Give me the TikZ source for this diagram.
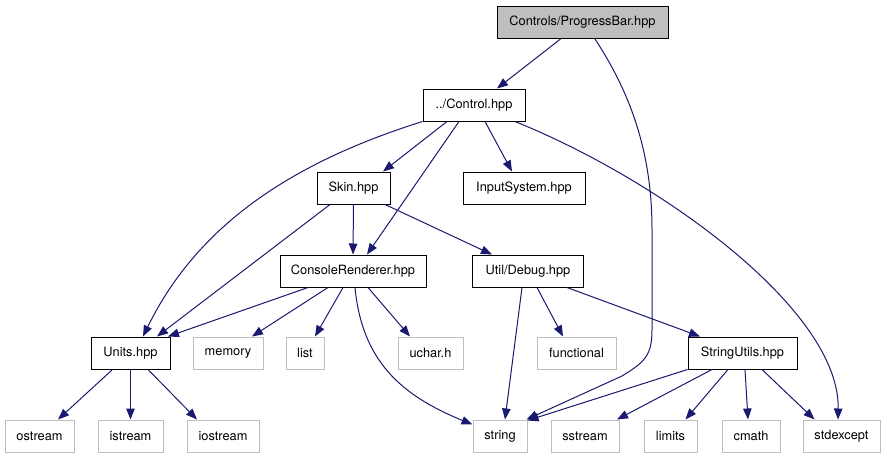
\documentclass[tikz,border=0pt]{standalone}
\usepackage{fontspec}
\setmainfont{TeX Gyre Heros}
\usepackage{tikz}
\usetikzlibrary{arrows.meta}
\definecolor{DOXedge}{HTML}{191970}
\definecolor{DOXgrey}{HTML}{BFBFBF}

\begin{document}
\begin{tikzpicture}[x=1pt, y=-1pt, font=\fontsize{12.8}{15}\selectfont]
  \tikzset{
    filebox/.style={draw=black, line width=1pt, minimum height=32pt, inner sep=0pt},
    sysbox/.style={draw=DOXgrey, line width=1pt, minimum height=32pt, inner sep=0pt},
    curbox/.style={filebox, fill=DOXgrey},
    dep/.style={-{Triangle[length=11pt, width=8.5pt]}, DOXedge, line width=1pt},
  }
  \useasboundingbox (0,0) rectangle (887,459);

  % Project headers
  \node[curbox, minimum width=171pt] (pb) at (582.5,22.5) {Controls/ProgressBar.hpp};
  \node[filebox, minimum width=102pt] (ctl) at (474,105) {../Control.hpp};
  \node[filebox, minimum width=73pt] (skin) at (353.5,188) {Skin.hpp};
  \node[filebox, minimum width=122pt] (input) at (524,188) {InputSystem.hpp};
  \node[filebox, minimum width=146pt] (cr) at (353,271) {ConsoleRenderer.hpp};
  \node[filebox, minimum width=111pt] (dbg) at (528,271) {Util/Debug.hpp};
  \node[filebox, minimum width=79pt] (units) at (130.5,353) {Units.hpp};
  \node[filebox, minimum width=109pt] (su) at (742.5,353) {StringUtils.hpp};

  % System headers
  \node[sysbox, minimum width=70pt] (memory) at (228,353) {memory};
  \node[sysbox, minimum width=38pt] (list) at (305,353) {list};
  \node[sysbox, minimum width=65pt] (uchar) at (430.5,353) {uchar.h};
  \node[sysbox, minimum width=79pt] (functional) at (576.5,353) {functional};
  \node[sysbox, minimum width=69pt] (ostream) at (39.5,436) {ostream};
  \node[sysbox, minimum width=65pt] (istream) at (130.5,436) {istream};
  \node[sysbox, minimum width=72pt] (iostream) at (223,436) {iostream};
  \node[sysbox, minimum width=54pt] (string) at (500,436) {string};
  \node[sysbox, minimum width=68pt] (sstream) at (585,436) {sstream};
  \node[sysbox, minimum width=53pt] (limits) at (670.5,436) {limits};
  \node[sysbox, minimum width=58pt] (cmath) at (751,436) {cmath};
  \node[sysbox, minimum width=77pt] (stdexcept) at (841.5,436) {stdexcept};

  % Controls/ProgressBar.hpp
  \draw[dep] ([xshift=-22pt]pb.south) -- ([xshift=23pt]ctl.north);
  \draw[dep] ([xshift=12.5pt]pb.south) .. controls (635,100) and (652,160) .. (652,230)
    -- (652,330) .. controls (652,355) and (645,362) .. (622,376) -- ([xshift=-1pt]string.north east);

  % ../Control.hpp
  \draw[dep] (ctl.south west) .. controls (300,160) and (200,220) .. ([xshift=12.5pt]units.north);
  \draw[dep] ([xshift=-27pt]ctl.south) -- ([xshift=29.5pt]skin.north);
  \draw[dep] ([xshift=-15pt]ctl.south) -- ([xshift=14pt]cr.north);
  \draw[dep] ([xshift=11pt]ctl.south) -- ([xshift=-12pt]input.north);
  \draw[dep] ([xshift=41pt]ctl.south) .. controls (660,180) and (840,310) .. ([xshift=-3.5pt]stdexcept.north);

  % Skin.hpp
  \draw[dep] ([xshift=-23.5pt]skin.south) -- ([xshift=26.5pt]units.north);
  \draw[dep] (skin.south) -- (cr.north);
  \draw[dep] ([xshift=31.5pt]skin.south) -- ([xshift=-36pt]dbg.north);

  % ConsoleRenderer.hpp
  \draw[dep] ([xshift=-45pt]cr.south) -- ([xshift=37.5pt]units.north);
  \draw[dep] ([xshift=-25pt]cr.south) -- ([xshift=24pt]memory.north);
  \draw[dep] ([xshift=-10pt]cr.south) -- ([xshift=10pt]list.north);
  \draw[dep] ([xshift=15pt]cr.south) -- ([xshift=-20.5pt]uchar.north);
  \draw[dep] ([xshift=2pt]cr.south) .. controls (362,360) and (400,395) .. ([yshift=-5pt]string.north west);

  % Util/Debug.hpp
  \draw[dep] ([xshift=-6pt]dbg.south) -- ([xshift=5pt]string.north);
  \draw[dep] ([xshift=9pt]dbg.south) -- ([xshift=-13.5pt]functional.north);
  \draw[dep] ([xshift=39pt]dbg.south) -- ([xshift=-42.5pt]su.north);

  % StringUtils.hpp
  \draw[dep] (su.south west) -- ([yshift=-1pt]string.north east);
  \draw[dep] ([xshift=-30.5pt]su.south) -- ([xshift=32pt]sstream.north);
  \draw[dep] ([xshift=-14.5pt]su.south) -- ([xshift=15pt]limits.north);
  \draw[dep] ([xshift=2.5pt]su.south) -- ([xshift=-3pt]cmath.north);
  \draw[dep] ([xshift=19.5pt]su.south) -- ([xshift=-27pt]stdexcept.north);

  % Units.hpp
  \draw[dep] ([xshift=-18pt]units.south) -- ([xshift=18.5pt]ostream.north);
  \draw[dep] (units.south) -- (istream.north);
  \draw[dep] ([xshift=17.5pt]units.south) -- ([xshift=-26pt]iostream.north);
\end{tikzpicture}
\end{document}
